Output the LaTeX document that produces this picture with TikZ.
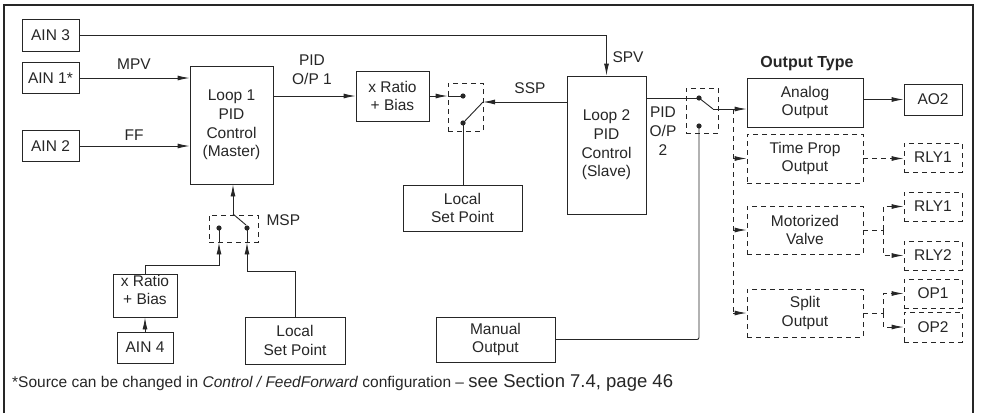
\documentclass[tikz,border=0pt]{standalone}
\usepackage{fontspec}
\setmainfont{Liberation Sans}
\usetikzlibrary{arrows.meta}
\definecolor{ink}{HTML}{262626}
\begin{document}
\begin{tikzpicture}[x=1pt,y=-1pt,
  every node/.style={font=\fontsize{15.5}{18.7}\selectfont, text=ink},
  box/.style={draw=ink, line width=0.9pt, inner sep=0pt, align=center},
  dbox/.style={box, dash pattern=on 5pt off 4pt},
  ln/.style={draw=ink, line width=0.9pt},
  dln/.style={ln, dash pattern=on 5pt off 4pt},
  arr/.style={-{Latex[length=12pt,width=5pt]}},
  dotc/.style={fill=ink}]
\useasboundingbox (0,0) rectangle (985,413);
\draw[ln, line width=1.2pt] (4,413) -- (4,5) -- (973,5) -- (973,413);

% inputs
\node[box,minimum width=57pt,minimum height=32pt] (ain3) at (50.5,35) {AIN 3};
\node[box,minimum width=57pt,minimum height=31pt] (ain1) at (50.5,78) {AIN 1*};
\node[box,minimum width=57pt,minimum height=31pt] (ain2) at (50.5,146) {AIN 2};
\node[box,minimum width=83pt,minimum height=118pt] (loop1) at (231.5,125) {Loop 1\\PID\\Control\\(Master)};
\draw[ln,arr] (ain1.east) -- (ain1.east -| loop1.west);
\draw[ln,arr] (ain2.east) -- (ain2.east -| loop1.west);
\node (mpv) at (134,64) {MPV};
\node (ff) at (134,135) {FF};

% ratio 1 and switch 1
\node[box,minimum width=73pt,minimum height=50pt] (ratio1) at (392.5,96) {x Ratio\\+ Bias};
\draw[ln,arr] (loop1.east |- ratio1.west) -- (ratio1.west);
\node[align=center] (pid1) at (312,70) {PID\\O/P 1};
\node[dbox,minimum width=35pt,minimum height=48pt] (sw1) at (465.5,107) {};
\coordinate (s1a) at (463,96);
\coordinate (s1b) at (463,123);
\coordinate (s1c) at (483,102);
\node[box,minimum width=119pt,minimum height=46pt] (lsp1) at (462.5,208) {Local\\Set Point};
\node[box,minimum width=79pt,minimum height=138pt] (loop2) at (606.5,145) {Loop 2\\PID\\Control\\(Slave)};
\draw[ln,arr] (ratio1.east) -- (sw1.west |- ratio1.east);
\draw[ln] (sw1.west |- s1a) -- (s1a);
\draw[ln] (s1b) -- (s1c);
\draw[ln,arr] (loop2.west |- s1c) -- (s1c);
\draw[ln] (s1b) -- (s1b |- lsp1.north);
\fill[dotc] (s1a) circle (2.6pt) (s1b) circle (2.6pt);
\node (ssp) at (530,88) {SSP};
\draw[ln,arr] (ain3.east) -| (loop2.north);
\node (spv) at (628,57) {SPV};

% switch 2
\node[dbox,minimum width=32pt,minimum height=45pt] (sw2) at (702,110.5) {};
\coordinate (s2a) at (699,98);
\coordinate (s2b) at (699,126);
\coordinate (s2c) at (713,109);
\node[box,minimum width=116pt,minimum height=49pt] (analog) at (805,102.5) {Analog\\Output};
\draw[ln] (loop2.east |- s2a) -- (s2a);
\draw[ln] (s2a) -- (s2c);
\draw[ln,arr] (s2c) -- (analog.west |- s2c);
\fill[dotc] (s2a) circle (2.6pt) (s2b) circle (2.6pt);
\node[align=center] (pid2) at (663,131) {PID\\O/P\\2};
\node[font=\fontsize{16}{19}\selectfont\bfseries] (otype) at (807,64) {Output Type};
\node[box,minimum width=58pt,minimum height=31pt] (ao2) at (933,99.5) {AO2};
\draw[ln,arr] (analog.east |- ao2.west) -- (ao2.west);

% output types
\node[dbox,minimum width=116pt,minimum height=49pt] (timeprop) at (805,158.5) {Time Prop\\Output};
\node[dbox,minimum width=116pt,minimum height=48pt] (motor) at (805,230) {Motorized\\Valve};
\node[dbox,minimum width=116pt,minimum height=48pt] (split) at (805,313) {Split\\Output};
\coordinate (bus) at (733,109);
\draw[dln] (bus) -- (bus |- split.west);
\draw[dln,arr] (bus |- timeprop.west) -- (timeprop.west);
\draw[dln,arr] (bus |- motor.west) -- (motor.west);
\draw[dln,arr] (bus |- split.west) -- (split.west);

\node[dbox,minimum width=58pt,minimum height=29pt] (rly1a) at (933,157.5) {RLY1};
\node[dbox,minimum width=58pt,minimum height=29pt] (rly1b) at (933,206.5) {RLY1};
\node[dbox,minimum width=58pt,minimum height=29pt] (rly2) at (933,255.5) {RLY2};
\node[dbox,minimum width=58pt,minimum height=29pt] (op1) at (933,293.5) {OP1};
\node[dbox,minimum width=58pt,minimum height=30pt] (op2) at (933,327) {OP2};
\draw[dln,arr] (timeprop.east) -- (rly1a.west |- timeprop.east);
\coordinate (mj) at (883,230);
\draw[dln] (motor.east) -- (mj);
\draw[dln,arr] (mj) |- (rly1b.west);
\draw[dln,arr] (mj) |- (rly2.west);
\coordinate (sj) at (883,313);
\draw[dln] (split.east) -- (sj);
\draw[dln,arr] (sj) |- (op1.west);
\draw[dln,arr] (sj) |- (op2.west);

% manual output
\node[box,minimum width=119pt,minimum height=45pt] (manual) at (495.5,339.5) {Manual\\Output};
\draw[ln, rounded corners=2pt] (manual.east) -| (s2b);

% switch 3 (MSP)
\node[dbox,minimum width=49pt,minimum height=27pt] (sw3) at (233.5,228.5) {};
\coordinate (s3p) at (233,214);
\coordinate (s3a) at (219,228);
\coordinate (s3b) at (247,228);
\coordinate (s3c) at (246,225);
\draw[ln,arr] (s3p) -- (s3p |- loop1.south);
\draw[ln] (s3p) -- (s3c);
\fill[dotc] (s3a) circle (2.6pt) (s3b) circle (2.6pt);
\node[anchor=west] (msp) at (263,220) {MSP};

\node[box,minimum width=64pt,minimum height=43pt] (ratio2) at (145,295.5) {};
\node[align=center, inner sep=0pt] (ratio2t) at (145,290) {x Ratio\\+ Bias};
\node[box,minimum width=56pt,minimum height=31pt] (ain4) at (145,347.5) {AIN 4};
\node[box,minimum width=100pt,minimum height=47pt] (lsp2) at (295,340.5) {Local\\Set Point};
\draw[ln,arr] (ain4.north) -- (ratio2.south);
\coordinate (k1) at (0,265);
\coordinate (k2) at (0,271);
\draw[ln,arr] (ratio2.north) -- (ratio2.north |- k1) -| (s3a |- sw3.south);
\draw[ln] (s3a |- sw3.south) -- (s3a);
\draw[ln,arr] (lsp2.north) -- (lsp2.north |- k2) -| (s3b |- sw3.south);
\draw[ln] (s3b |- sw3.south) -- (s3b);

% footnote
\node[anchor=base west, inner sep=0pt] (foot) at (12,387) {\fontsize{15.5}{18}\selectfont *Source can be changed in \textit{Control / FeedForward} configuration – {\fontsize{18.5}{20}\selectfont see Section 7.4, page 46}};
\end{tikzpicture}
\end{document}
